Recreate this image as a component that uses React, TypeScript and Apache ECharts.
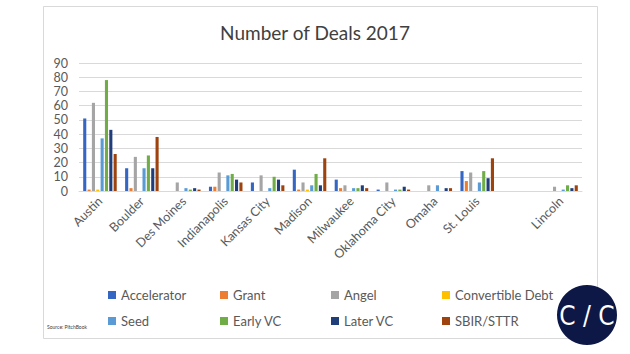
import React, { useEffect, useRef } from "react";
import * as echarts from "echarts";

const categories = ["Austin", "Boulder", "Des Moines", "Indianapolis", "Kansas City", "Madison", "Milwaukee", "Oklahoma City", "Omaha", "St. Louis", "", "Lincoln"];
const seriesNames = ["Accelerator", "Grant", "Angel", "Convertible Debt", "Seed", "Early VC", "Later VC", "SBIR/STTR"];
const accelerator = [51, 16, 0, 3, 6, 15, 8, 1, 0, 14, null, 0];
const grant = [1, 2, 0, 3, 0, 1, 2, 0, 0, 7, null, 0];
const angel = [62, 24, 6, 13, 11, 6, 4, 6, 4, 13, null, 3];
const convertibleDebt = [1, 0, 0, 0, 0, 1, 0, 0, 0, 0, null, 0];
const seed = [37, 16, 2, 11, 2, 4, 2, 1, 4, 6, null, 1];
const earlyVC = [78, 25, 1, 12, 10, 12, 2, 1, 0, 14, null, 4];
const laterVC = [43, 16, 2, 8, 8, 4, 4, 3, 2, 9, null, 2];
const sbir = [26, 38, 1, 6, 4, 23, 2, 1, 2, 23, null, 4];
const seriesValues = [accelerator, grant, angel, convertibleDebt, seed, earlyVC, laterVC, sbir];
const colors = ["#3566C4", "#ED7D31", "#A5A5A5", "#FFC000", "#5B9BD5", "#70AD47", "#203F7A", "#9E430E"];
const yTicks = { min: 0, max: 90, interval: 10 };

const FONT = "Lato, 'Open Sans', sans-serif";

export default function App() {
  const ref = useRef<HTMLDivElement>(null);
  useEffect(() => {
    if (!ref.current) return;
    const chart = echarts.init(ref.current, null, { renderer: "svg" });
    const legendCols = [0, 1, 2, 3].map((c) => ({
      orient: "vertical" as const,
      left: [103, 215, 326, 437][c],
      top: 283,
      itemWidth: 8,
      itemHeight: 8,
      itemGap: 12,
      icon: "rect",
      textStyle: { color: "#595959", fontSize: 13, fontFamily: FONT, lineHeight: 14 },
      data: [seriesNames[c], seriesNames[c + 4]],
    }));
    chart.setOption({
      animation: false,
      title: {
        text: "Number of Deals 2017",
        left: "center",
        top: 18,
        textStyle: { color: "#404040", fontSize: 19, fontWeight: "normal", fontFamily: FONT },
      },
      legend: legendCols,
      grid: { left: 79, right: 48, top: 63, bottom: 163, containLabel: false },
      xAxis: {
        type: "category",
        data: categories,
        axisLine: { lineStyle: { color: "#d9d9d9" } },
        axisTick: { show: false },
        axisLabel: { interval: 0, rotate: 45, color: "#595959", fontSize: 12.5, fontFamily: FONT, margin: 8 },
      },
      yAxis: {
        type: "value",
        min: yTicks.min,
        max: yTicks.max,
        interval: yTicks.interval,
        axisLine: { show: false },
        axisTick: { show: false },
        axisLabel: { color: "#595959", fontSize: 12.5, lineHeight: 12, fontFamily: FONT, margin: 11 },
        splitLine: { lineStyle: { color: "#d9d9d9", width: 1 } },
      },
      series: seriesNames.map((name, i) => ({
        name,
        type: "bar",
        data: seriesValues[i],
        barGap: "40%",
        barCategoryGap: "20%",
        itemStyle: { color: colors[i] },
      })),
      graphic: [
        {
          type: "rect",
          shape: { x: 43.5, y: 6.5, width: 554, height: 332 },
          style: { fill: "none", stroke: "#d9d9d9", lineWidth: 1 },
          z: -1,
        },
        {
          type: "text",
          left: 47,
          top: 324,
          style: { text: "Source: PitchBook", fill: "#404040", fontSize: 5, fontFamily: FONT },
        },
        {
          type: "circle",
          shape: { cx: 587, cy: 315, r: 30 },
          style: { fill: "#0E1846" },
          z: 10,
        },
        {
          type: "text",
          x: 587,
          y: 316,
          z: 11,
          style: {
            text: "C / C",
            fill: "#ffffff",
            fontSize: 26,
            fontFamily: "'Liberation Sans Narrow', 'DejaVu Sans Condensed', sans-serif",
            align: "center",
            verticalAlign: "middle",
          },
        },
      ],
    });
    return () => chart.dispose();
  }, []);
  return <div ref={ref} style={{ width: 630, height: 354, position: "absolute", left: 0, top: 0, background: "#fff" }} />;
}
